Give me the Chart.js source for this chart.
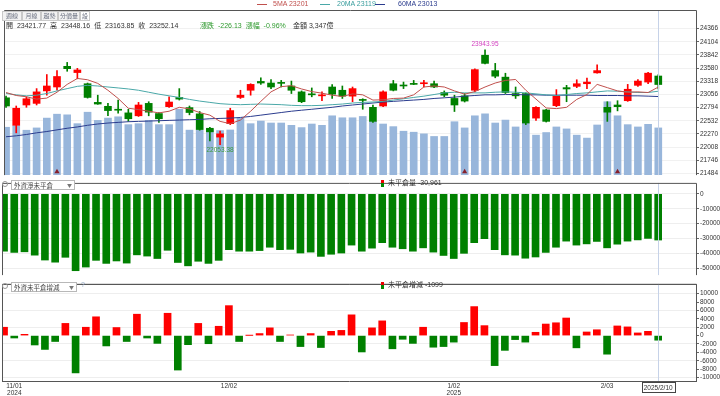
<!DOCTYPE html>
<html>
<head>
<meta charset="utf-8">
<script src="https://cdn.jsdelivr.net/npm/chart.js@4.4.1/dist/chart.umd.min.js"></script>
<style>
  body { margin: 0; background: #fff; }
  #wrap { position: relative; width: 720px; height: 396px; overflow: hidden;
    font-family: "Liberation Sans", "Noto Sans CJK TC", sans-serif; color: #333; }
  canvas { position: absolute; left: 0; }
  .t { position: absolute; white-space: nowrap; font-size: 7px; line-height: 8px; }
  .ln { position: absolute; height: 0; width: 10px; }
  .tab { position: absolute; top: 11px; height: 8px; line-height: 8px; font-size: 6px;
    border: 1px solid #c9c9c9; background: #f2f2f2; color: #6a7080; text-align: center;
    font-family: "Noto Sans CJK TC", sans-serif; }
  .sel { position: absolute; height: 8px; line-height: 8px; font-size: 6.5px; border: 1px solid #b8b8b8;
    background: #fff; padding-left: 2px; color: #444; font-family: "Noto Sans CJK TC", sans-serif; }
  .sel b { position: absolute; right: 2px; top: 0; font-weight: normal; font-size: 5px; color: #777; }
  .gear { position: absolute; width: 4px; height: 4px; border: 1.5px solid #999; border-radius: 50%; }
  .sw { position: absolute; width: 3px; height: 7px; background: linear-gradient(#e00 50%, #080 50%); }
</style>
</head>
<body>
<div id="wrap">
  <canvas id="c1" width="720" height="180" style="top:0"></canvas>
  <canvas id="c2" width="720" height="102" style="top:178px"></canvas>
  <canvas id="c3" width="720" height="117" style="top:279px"></canvas>

  <span class="ln" style="left:257px;top:4px;border-top:1px solid #c0504d"></span>
  <span class="t" id="l5" style="left:273px;top:0;color:#c0504d"></span>
  <span class="ln" style="left:320px;top:4px;border-top:1px solid #4aa8a8"></span>
  <span class="t" id="l20" style="left:337px;top:0;color:#3a9e9e"></span>
  <span class="ln" style="left:375px;top:4px;border-top:1px solid #2b3c8e"></span>
  <span class="t" id="l60" style="left:398px;top:0;color:#2b3c8e"></span>

  <div class="tab" style="left:2px;width:18px">週線</div>
  <div class="tab" style="left:22px;width:17px">月線</div>
  <div class="tab" style="left:41px;width:15px">趨勢</div>
  <div class="tab" style="left:58px;width:20px">分價量</div>
  <div class="tab" style="left:80px;width:8px;background:#fff">設</div>

  <span class="t" id="ohlc" style="left:6px;top:22px;word-spacing:2px"></span>
  <span class="t" id="chg" style="left:200px;top:22px;color:#2e9a2e;word-spacing:2px"></span>
  <span class="t" id="amt" style="left:293px;top:22px"></span>

  <div class="gear" style="left:2px;top:181px"></div>
  <div class="sel" style="left:11px;top:180px;width:60px">外資淨未平倉<b>▼</b></div>
  <div class="sw" style="left:381px;top:180px"></div>
  <span class="t" id="oiTxt" style="left:388px;top:179px"></span>

  <div class="gear" style="left:2px;top:283px"></div>
  <div class="sel" style="left:11px;top:282px;width:62px">外資未平倉增減<b>▼</b></div>
  <span class="t" style="left:81px;top:281px;color:#8aa0c0">?</span>
  <div class="sw" style="left:381px;top:282px"></div>
  <span class="t" id="chgTxt" style="left:388px;top:281px"></span>
</div>

<script>
// trading days shown on the chart
const dates = [
  '2024/10/30','2024/11/01','2024/11/04','2024/11/05','2024/11/06','2024/11/07','2024/11/08',
  '2024/11/11','2024/11/12','2024/11/13','2024/11/14','2024/11/15','2024/11/18','2024/11/19',
  '2024/11/20','2024/11/21','2024/11/22','2024/11/25','2024/11/26','2024/11/27','2024/11/28',
  '2024/11/29','2024/12/02','2024/12/03','2024/12/04','2024/12/05','2024/12/06','2024/12/09',
  '2024/12/10','2024/12/11','2024/12/12','2024/12/13','2024/12/16','2024/12/17','2024/12/18',
  '2024/12/19','2024/12/20','2024/12/23','2024/12/24','2024/12/25','2024/12/26','2024/12/27',
  '2024/12/30','2024/12/31','2025/01/02','2025/01/03','2025/01/06','2025/01/07','2025/01/08',
  '2025/01/09','2025/01/10','2025/01/13','2025/01/14','2025/01/15','2025/01/16','2025/01/17',
  '2025/01/20','2025/01/21','2025/01/22','2025/02/03','2025/02/04','2025/02/05','2025/02/06',
  '2025/02/07','2025/02/10'
];

const opens = [22988,22441,22845,22877,23125,23203,23614,23490,23268,22897,22819,22760,22688,22630,
  22877,22675,22812,22995,22793,22669,22382,22206,22473,22995,23138,23314,23282,23288,23223,23106,
  23060,23027,23203,23138,23021,22949,22799,22825,23268,23236,23275,23268,23268,23093,22975,23027,
  23138,23835,23529,23399,23073,23073,22584,22747,22832,23190,23216,23268,23484,22799,22845,22930,
  23236,23301,23421.77];
const highs = [23021,22825,23008,23171,23451,23529,23692,23575,23282,23040,22877,22943,22760,22897,
  22910,22695,23008,23171,22825,22715,22402,22324,22780,23138,23268,23386,23353,23334,23321,23125,
  23184,23106,23249,23223,23203,22969,22845,23125,23334,23301,23334,23334,23321,23125,23040,23073,
  23562,23943.95,23673,23477,23203,23086,22812,22760,23151,23236,23347,23379,23646,22910,22930,23255,
  23353,23497,23448.16];
const lows = [22799,22291,22799,22845,23040,23138,23516,23366,22982,22858,22630,22682,22519,22617,
  22630,22499,22799,22943,22649,22343,22128,22053.38,22454,22975,23040,23255,23171,23203,23073,22891,
  23008,22930,22975,22975,22910,22760,22499,22812,23125,23171,23249,23203,23190,23008,22715,22904,
  23106,23660,23386,23073,22975,22454,22539,22506,22812,22910,23190,23171,23477,22519,22728,22917,
  23216,23268,23163.85];
const closes = [22825,22780,22969,23106,23223,23412,23568,23542,22995,22864,22734,22741,22571,22845,
  22702,22571,22904,22962,22695,22356,22311,22271,22734,23040,23255,23282,23203,23275,23138,22910,
  23047,23040,23060,23021,23171,22936,22519,23106,23138,23223,23255,23282,23203,23040,22845,22923,
  23549,23673,23418,23093,23027,22486,22799,22519,23027,23164,23268,23301,23529,22702,22812,23158,
  23321,23478.27,23252.14];

// turnover, 億
const amounts = [3394,3508,3183,3346,4043,4321,4275,3648,4461,3880,4043,4136,3578,3648,3880,3578,
  3578,4670,3190,3172,3229,3160,3201,4043,3648,3834,3694,3694,3531,3369,3624,3531,4206,4066,4066,
  4159,3810,3624,3438,3113,3043,2927,2741,2741,3787,3346,4206,4345,3694,3903,3415,3694,2834,3020,
  3415,3276,2834,2625,3555,5204,4206,3578,3415,3601,3347];

const ma5 = [23093,23034,23008,22962,22982,23099,23255,23373,23347,23275,23138,22975,22780,22754,
  22721,22688,22721,22799,22767,22695,22643,22519,22473,22545,22721,22917,23106,23210,23229,23164,
  23112,23080,23040,23014,23066,23047,22943,22949,22975,22982,23047,23203,23223,23203,23125,23060,
  23112,23203,23282,23334,23353,23138,22962,22786,22773,22799,22956,23053,23255,23190,23125,23099,
  23106,23093,23201];
const ma20 = [23073,23047,23027,23040,23073,23125,23171,23216,23236,23223,23203,23184,23164,23138,
  23099,23060,23027,22995,22956,22923,22897,22871,22858,22851,22858,22864,22858,22851,22838,22832,
  22832,22838,22851,22864,22884,22897,22904,22917,22943,22969,22995,23021,23053,23086,23099,23086,
  23086,23086,23099,23106,23099,23086,23066,23047,23034,23053,23073,23086,23106,23125,23119,23106,
  23093,23093,23119];
const ma60 = [22213,22232,22258,22291,22317,22350,22382,22408,22441,22467,22486,22499,22512,22519,
  22525,22532,22539,22545,22552,22558,22571,22578,22584,22597,22617,22643,22669,22695,22721,22741,
  22760,22780,22799,22825,22845,22864,22884,22904,22917,22930,22943,22956,22975,22988,23001,23021,
  23034,23047,23047,23053,23053,23047,23047,23040,23040,23040,23040,23040,23034,23034,23034,23027,
  23027,23021,23013];

// 外資淨未平倉 (口)
const oi = [-38447,-39264,-38855,-41105,-44378,-45809,-42537,-51534,-49080,-44582,-46626,-44991,
  -46422,-40900,-41718,-43354,-37832,-46013,-48262,-45195,-46626,-44582,-37424,-38447,-38447,-38037,
  -35787,-37424,-37219,-39673,-39060,-41923,-40491,-39673,-34356,-38447,-36400,-32720,-35787,-36810,
  -38447,-36197,-39060,-41310,-43354,-39878,-32720,-30062,-37424,-40900,-41105,-43149,-42332,-39264,
  -35787,-31698,-34356,-33538,-31902,-36197,-33743,-31698,-30880,-29862,-30961];
// 外資未平倉增減
const oiChg = [1993,-576,300,-2242,-3303,-1409,2909,-8909,1993,4486,-2470,1924,-1409,5106,-576,-1864,
  5333,-8227,-2167,2909,-1939,2227,7152,-1409,35,485,1848,-1409,150,-2621,485,-2848,1015,1242,4955,
  -3909,1848,3515,-3152,-879,-1864,1993,-2773,-2621,-1561,3129,6924,2379,-7167,-3530,-955,-1561,788,
  2758,3061,4197,-2924,864,1394,-4439,2303,2076,636,1015,-1099];

const priceTicks = [21484,21746,22008,22270,22532,22794,23056,23318,23580,23842,24104,24366];
const oiTicks = [0,-10000,-20000,-30000,-40000,-50000];
const chgTicks = [10000,8000,6000,4000,2000,0,-2000,-4000,-6000,-8000,-10000];
const tickDays = [1, 22, 44, 59];
const markDays = [5, 45, 60];

const RED = '#ff0000', GREEN = '#008000';
const last = dates.length - 1;
const xMin = -0.2, xMax = 67.7;   // leaves the empty room right of the last day
const pts = arr => arr.map((v, i) => ({x: i, y: v}));
const candleColors = closes.map((c, i) => c >= opens[i] ? RED : GREEN);

// header texts
const f2 = v => v.toFixed(2);
document.getElementById('l5').textContent = '5MA ' + Math.round(ma5[last]);
document.getElementById('l20').textContent = '20MA ' + Math.round(ma20[last]);
document.getElementById('l60').textContent = '60MA ' + Math.round(ma60[last]);
document.getElementById('ohlc').textContent = '開 ' + f2(opens[last]) + ' 高 ' + f2(highs[last]) +
  ' 低 ' + f2(lows[last]) + ' 收 ' + f2(closes[last]);
const diff = closes[last] - closes[last - 1];
document.getElementById('chg').textContent = '漲跌 ' + f2(diff) + ' 漲幅 ' +
  (diff / closes[last - 1] * 100).toFixed(2) + '%';
document.getElementById('amt').textContent = '金額 ' + amounts[last].toLocaleString('en-US') + '億';
document.getElementById('oiTxt').textContent = '未平倉量 ' + oi[last].toLocaleString('en-US');
document.getElementById('chgTxt').textContent = '未平倉增減 ' + oiChg[last];

const axisFont = {family: 'Liberation Sans', size: 6.5};

function rightAxis(min, max, ticks, gridColor) {
  return {
    position: 'right', min: min, max: max,
    afterBuildTicks: s => { s.ticks = ticks.map(v => ({value: v})); },
    afterFit: s => { s.width = 24; },
    grid: {color: gridColor, tickColor: '#666', tickLength: 3},
    border: {display: false},
    ticks: {autoSkip: false, padding: 1, color: '#333', font: axisFont, callback: v => String(v)}
  };
}
const hiddenX = {type: 'linear', min: xMin, max: xMax, offset: false, display: false};

// frame, crosshair on the last day
const frame = {
  id: 'frame',
  afterDatasetsDraw(chart, args, opts) {
    const ctx = chart.ctx, a = chart.chartArea;
    const x = Math.round(chart.scales.x.getPixelForValue(last)) + 0.5;
    ctx.save();
    ctx.strokeStyle = '#c6d2e8';
    ctx.lineWidth = 1;
    ctx.beginPath();
    ctx.moveTo(x, a.top); ctx.lineTo(x, a.bottom);
    ctx.stroke();
    ctx.strokeStyle = '#555';
    ctx.beginPath();
    ctx.moveTo(a.left + 0.5, a.bottom);
    ctx.lineTo(a.left + 0.5, a.top + 0.5);
    ctx.lineTo(a.right + 0.5, a.top + 0.5);
    ctx.lineTo(a.right + 0.5, a.bottom);
    if (opts && opts.bottom) { ctx.moveTo(a.left, a.bottom + 0.5); ctx.lineTo(a.right + 1, a.bottom + 0.5); }
    ctx.stroke();
    ctx.restore();
  }
};

// highest high / lowest low labels
const extremes = {
  id: 'extremes',
  afterDatasetsDraw(chart) {
    const ctx = chart.ctx, xs = chart.scales.x, ys = chart.scales.y;
    const hi = Math.max(...highs), lo = Math.min(...lows);
    ctx.save();
    ctx.font = '6.5px "Liberation Sans"';
    ctx.textAlign = 'center';
    ctx.fillStyle = '#d23fbf';
    ctx.textBaseline = 'bottom';
    ctx.fillText(f2(hi), xs.getPixelForValue(highs.indexOf(hi)), ys.getPixelForValue(hi) - 2);
    ctx.fillStyle = '#3d9a3d';
    ctx.textBaseline = 'top';
    ctx.fillText(f2(lo), xs.getPixelForValue(lows.indexOf(lo)), ys.getPixelForValue(lo) + 2);
    ctx.restore();
  }
};

// date box under the crosshair
const dateBox = {
  id: 'dateBox',
  afterDraw(chart) {
    const ctx = chart.ctx, a = chart.chartArea;
    const x = chart.scales.x.getPixelForValue(last);
    const p = dates[last].split('/');
    const txt = p[0] + '/' + (+p[1]) + '/' + (+p[2]);
    ctx.save();
    ctx.font = '6.5px "Liberation Sans"';
    const w = ctx.measureText(txt).width + 4;
    ctx.fillStyle = '#fff';
    ctx.fillRect(Math.round(x - w / 2) + 0.5, a.bottom + 1.5, Math.round(w), 10);
    ctx.strokeStyle = '#444';
    ctx.strokeRect(Math.round(x - w / 2) + 0.5, a.bottom + 1.5, Math.round(w), 10);
    ctx.fillStyle = '#333';
    ctx.textAlign = 'center';
    ctx.textBaseline = 'middle';
    ctx.fillText(txt, x, a.bottom + 7);
    ctx.restore();
  }
};

Chart.defaults.animation = false;
Chart.defaults.responsive = false;
Chart.defaults.plugins.legend.display = false;
Chart.defaults.plugins.tooltip.enabled = false;

// price + volume
new Chart(document.getElementById('c1'), {
  type: 'bar',
  data: {
    datasets: [
      {type: 'line', label: '5MA', data: pts(ma5), borderColor: '#c0504d', borderWidth: 1, pointRadius: 0, order: 1},
      {type: 'line', label: '20MA', data: pts(ma20), borderColor: '#4aa8a8', borderWidth: 1, pointRadius: 0, order: 1},
      {type: 'line', label: '60MA', data: pts(ma60), borderColor: '#2b3c8e', borderWidth: 1, pointRadius: 0, order: 1},
      {label: 'body', data: dates.map((d, i) => ({x: i, y: [opens[i], closes[i]]})), backgroundColor: candleColors,
        barThickness: 7, minBarLength: 1, grouped: false, order: 2},
      {label: 'wick', data: dates.map((d, i) => ({x: i, y: [lows[i], highs[i]]})), backgroundColor: candleColors,
        barThickness: 1, grouped: false, order: 3},
      {type: 'scatter', label: 'mark', data: markDays.map(i => ({x: i, y: 230})), yAxisID: 'yv',
        pointStyle: 'triangle', pointRadius: 3, backgroundColor: '#86202c', borderWidth: 0, order: 5},
      {label: '金額', data: pts(amounts), yAxisID: 'yv', backgroundColor: '#98b6db',
        barThickness: 7, grouped: false, order: 6}
    ]
  },
  options: {
    layout: {padding: {left: 2, top: 10, right: 0, bottom: 2}},
    scales: {
      x: hiddenX,
      y: rightAxis(21450, 24735, priceTicks, '#f1f1f1'),
      yv: {display: false, min: 0, max: 11710}
    }
  },
  plugins: [frame, extremes]
});

// 外資淨未平倉
new Chart(document.getElementById('c2'), {
  type: 'bar',
  data: {datasets: [{label: '未平倉量', data: pts(oi), backgroundColor: GREEN, barThickness: 7}]},
  options: {
    layout: {padding: {left: 2, top: 0, right: 0, bottom: 1}},
    scales: {x: hiddenX, y: rightAxis(-54470, 7340, oiTicks, '#eeeeee')}
  },
  plugins: [frame]
});

// 外資未平倉增減
const yChg = rightAxis(-10840, 12340, chgTicks, c => Math.abs(c.tick.value) % 4000 === 2000 ? '#eeeeee' : 'rgba(0,0,0,0)');
new Chart(document.getElementById('c3'), {
  type: 'bar',
  data: {datasets: [{label: '未平倉增減', data: pts(oiChg),
    backgroundColor: oiChg.map(v => v >= 0 ? RED : GREEN), barThickness: 7}]},
  options: {
    layout: {padding: {left: 2, top: 0, right: 0, bottom: 0}},
    scales: {
      x: {
        type: 'linear', min: xMin, max: xMax, offset: false,
        grid: {display: false, drawTicks: false},
        border: {display: false},
        afterBuildTicks: s => { s.ticks = tickDays.map(v => ({value: v})); },
        afterFit: s => { s.height = 15; },
        ticks: {
          autoSkip: false, maxRotation: 0, padding: 1, color: '#333',
          font: {family: 'Liberation Sans', size: 6.5, lineHeight: 1.2},
          callback: (v, k) => {
            const p = dates[v].split('/');
            const md = (+p[1]) + '/' + p[2];
            const prev = k > 0 ? dates[tickDays[k - 1]].slice(0, 4) : '';
            return p[0] !== prev ? [md, p[0]] : md;
          }
        }
      },
      y: yChg
    }
  },
  plugins: [frame, dateBox, {id: 'b', afterDatasetsDraw: (c) => frame.afterDatasetsDraw(c, null, {bottom: true})}]
});
</script>
</body>
</html>
